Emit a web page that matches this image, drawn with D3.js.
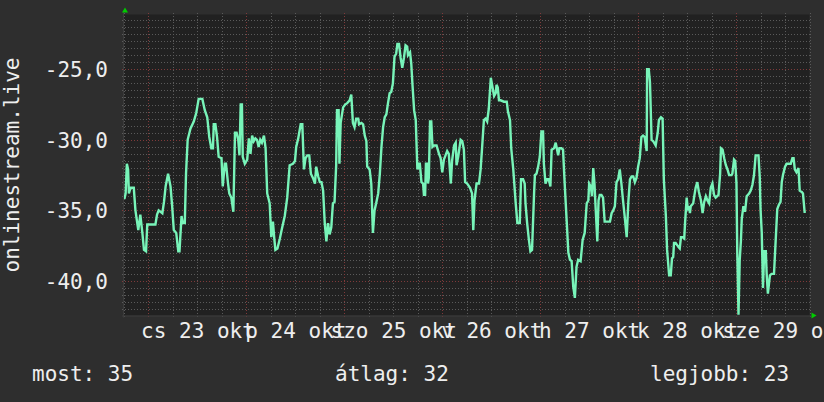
<!DOCTYPE html>
<html>
<head>
<meta charset="utf-8">
<script src="https://cdn.jsdelivr.net/npm/d3@7"></script>
<style>
html,body{margin:0;padding:0;background:#2e2e2e;}
svg{display:block;}
text{font-family:"DejaVu Sans Mono",monospace;fill:#eeeeee;}
</style>
</head>
<body>
<svg id="chart" width="824" height="402"></svg>
<script>
// Hours since 2014-10-23 00:00 (series sample times)
const hours = [-5.9,-5.6,-5.3,-5.0,-4.8,-4.4,-3.6,-3.2,-2.5,-2.0,-1.5,-1.1,-0.6,-0.3,0.5,1.7,2.1,2.5,3.4,3.8,4.2,4.8,5.4,5.8,6.2,6.8,7.3,7.6,8.1,8.4,8.9,9.2,9.6,10.3,11.1,11.7,12.3,13.2,13.8,14.4,14.9,15.4,15.8,16.0,16.4,16.8,17.2,17.9,18.2,18.7,19.0,19.5,19.8,20.3,20.8,21.2,21.6,22.0,22.3,22.6,22.9,23.1,23.6,24.2,24.6,25.0,25.4,25.8,26.2,26.6,27.0,27.4,27.8,28.3,28.7,29.1,29.7,30.1,30.5,30.8,31.1,31.6,32.2,32.7,33.4,34.0,34.6,35.4,35.9,36.2,36.7,37.3,37.7,38.1,38.5,38.9,39.4,39.8,40.3,40.8,41.1,41.6,42.0,42.4,42.8,43.2,43.6,44.0,44.4,44.8,45.2,45.6,46.0,46.2,46.6,46.8,47.1,47.7,48.2,48.7,49.3,49.7,50.1,50.5,50.9,51.4,51.6,52.2,52.6,53.0,53.4,53.6,54.2,54.6,55.0,55.4,55.8,56.3,56.7,57.1,57.5,57.9,58.3,58.7,59.1,59.5,59.9,60.3,60.7,61.0,61.4,61.8,62.2,62.6,63.0,63.4,63.6,64.1,64.4,64.7,65.1,65.5,65.9,66.3,66.5,66.9,67.3,67.5,67.8,68.0,68.3,68.5,68.7,69.0,69.3,69.6,70.0,70.6,71.2,71.6,72.0,72.4,72.8,73.2,73.6,74.1,74.4,74.9,75.3,75.5,75.9,76.5,76.9,77.3,77.6,78.1,78.8,79.3,79.6,79.9,80.4,81.0,81.4,81.8,82.2,82.6,83.0,83.4,83.9,84.2,84.7,85.1,85.3,85.6,85.9,86.3,87.1,87.8,88.1,88.6,88.9,89.4,90.0,90.4,91.0,91.3,91.8,92.2,92.4,92.8,93.2,93.6,94.0,94.5,94.7,95.1,95.5,95.9,96.3,96.7,96.9,97.3,97.7,98.1,98.5,98.8,99.4,99.8,100.2,100.4,100.7,101.2,101.6,102.0,102.5,102.9,103.3,103.7,104.1,104.5,104.9,105.3,105.9,106.4,106.9,107.4,107.8,108.0,108.4,108.7,109.0,109.3,109.6,110.0,110.3,110.6,111.0,111.4,111.8,112.4,113.1,113.5,113.9,114.3,114.7,115.1,115.5,115.9,116.3,116.7,117.2,117.6,118.0,118.4,118.8,119.2,119.6,120.0,120.4,120.8,121.2,121.6,122.1,122.2,122.6,122.9,123.0,123.3,123.7,124.3,124.8,125.1,125.6,126.0,126.3,126.8,127.1,127.6,128.0,128.3,128.6,128.8,129.2,129.9,130.2,130.5,130.9,131.3,131.5,131.9,132.2,132.5,132.7,132.9,133.5,133.7,134.1,134.5,134.9,135.4,135.8,136.2,136.6,137.0,137.4,137.8,138.2,138.6,139.0,139.7,140.1,140.3,140.7,141.1,141.5,141.9,142.3,142.9,143.1,143.5,143.8,144.1,144.3,144.6,144.9,145.2,145.4,145.8,146.2,146.6,147.2,147.6,148.0,148.4,148.8,149.5,149.8,150.0,150.3,150.6,150.9,151.3,151.5,151.8,152.3,152.7,153.3,153.7,154.1,154.5,154.9,155.2,155.5,156.0,156.4,157.4,157.8,158.1,158.4,158.8,159.3,159.6,160.1,160.4,160.8,161.1];
const values = [-34.2,-33.8,-31.7,-32.1,-33.8,-33.4,-33.4,-35.0,-36.4,-35.3,-36.6,-37.8,-37.9,-36.0,-36.0,-36.0,-35.3,-35.0,-35.2,-34.4,-33.3,-32.4,-33.3,-34.7,-36.4,-36.6,-37.9,-37.9,-35.4,-35.9,-35.9,-32.4,-30.0,-29.2,-28.7,-28.1,-27.1,-27.1,-27.9,-28.4,-29.8,-30.6,-30.6,-28.9,-28.9,-29.8,-31.2,-31.3,-33.3,-31.7,-31.7,-33.1,-33.8,-34.1,-35.1,-29.5,-29.5,-30.0,-31.1,-27.5,-27.5,-31.2,-31.7,-31.4,-29.9,-31.0,-29.7,-30.1,-29.9,-30.0,-30.5,-30.0,-30.2,-29.7,-30.6,-33.8,-34.5,-36.9,-35.8,-36.9,-37.8,-37.7,-37.0,-36.3,-35.4,-34.1,-31.8,-31.7,-31.5,-30.5,-29.9,-28.9,-28.9,-32.1,-31.3,-31.1,-31.1,-32.4,-32.7,-33.1,-31.9,-32.6,-33.0,-33.0,-33.6,-35.9,-37.2,-35.9,-36.7,-36.2,-34.5,-34.4,-31.8,-27.9,-27.9,-31.7,-28.8,-27.7,-27.5,-27.4,-27.2,-26.8,-28.8,-29.1,-28.5,-28.5,-28.9,-28.8,-28.9,-29.7,-30.1,-31.9,-32.1,-33.1,-36.6,-35.0,-34.5,-33.8,-32.4,-30.5,-29.1,-28.4,-28.2,-27.4,-26.7,-26.6,-26.0,-24.1,-23.9,-23.2,-23.2,-24.2,-24.9,-24.2,-23.3,-23.4,-24.0,-23.8,-24.6,-26.1,-27.9,-28.6,-32.1,-31.7,-31.7,-33.0,-33.1,-33.9,-33.9,-31.7,-31.7,-33.1,-32.7,-28.7,-28.7,-30.5,-30.4,-30.4,-31.0,-31.3,-32.3,-31.4,-31.1,-30.8,-31.0,-33.1,-31.5,-30.4,-30.2,-31.8,-31.2,-30.0,-30.1,-30.7,-33.0,-33.1,-33.4,-33.8,-36.4,-34.3,-33.1,-33.1,-32.1,-30.4,-28.6,-28.5,-28.7,-27.8,-25.6,-26.1,-26.9,-26.7,-26.1,-26.3,-27.2,-27.2,-27.3,-27.3,-28.0,-28.6,-30.6,-32.1,-34.5,-35.9,-35.9,-32.8,-32.8,-33.1,-34.5,-35.9,-37.0,-37.9,-37.8,-33.8,-32.5,-32.4,-31.9,-31.2,-29.4,-29.4,-31.7,-33.1,-32.8,-32.8,-33.3,-30.7,-30.6,-30.2,-30.8,-31.1,-30.6,-30.6,-30.7,-33.1,-35.8,-38.0,-38.5,-38.6,-40.4,-41.2,-39.0,-38.5,-38.6,-37.1,-36.6,-34.5,-34.3,-33.1,-33.3,-34.0,-32.0,-33.1,-34.9,-37.2,-34.3,-33.9,-33.9,-34.1,-35.8,-35.8,-35.8,-35.2,-35.0,-34.7,-33.0,-32.8,-32.1,-33.1,-34.3,-35.4,-36.9,-34.4,-32.8,-32.6,-32.6,-33.0,-32.7,-31.9,-31.3,-29.8,-29.7,-29.8,-30.8,-25.0,-25.0,-25.9,-26.9,-30.0,-30.1,-30.4,-29.5,-28.6,-28.4,-28.5,-32.8,-35.4,-37.8,-39.6,-39.6,-38.4,-38.3,-37.3,-37.3,-37.6,-37.7,-36.9,-36.9,-37.0,-35.9,-34.1,-35.0,-34.7,-35.2,-34.7,-34.5,-34.1,-33.4,-33.0,-33.7,-34.3,-35.2,-34.4,-34.0,-34.3,-34.5,-33.4,-33.1,-33.9,-34.1,-33.9,-32.4,-30.6,-30.7,-31.3,-31.8,-32.1,-32.5,-32.5,-32.4,-31.4,-31.5,-33.1,-38.0,-42.4,-38.5,-37.1,-35.6,-34.7,-35.1,-34.0,-33.8,-33.6,-33.2,-32.5,-31.1,-31.1,-32.6,-34.9,-36.6,-40.5,-37.9,-37.9,-39.5,-40.9,-39.6,-39.5,-39.5,-37.2,-34.9,-34.6,-34.4,-33.0,-32.5,-31.9,-31.7,-31.7,-31.3,-31.3,-32.1,-32.3,-32.0,-33.6,-33.7,-33.8,-35.1,-35.1];

const dayLabels = ["cs 23 okt","p 24 okt","szo 25 okt","v 26 okt","h 27 okt","k 28 okt","sze 29 okt"];
const yTicks = [-40,-35,-30,-25];
const axisTitle = "onlinestream.live";
const legendLabels = ["most:","átlag:","legjobb:"];
const legendValues = [35,32,23];

const t0 = Date.UTC(2014,9,23,0,0);
const toDate = h => new Date(t0 + h*3600e3);

const W = 824, H = 402;
const plot = {left:124, right:809.5, top:14.5, bottom:315.5};

const x = d3.scaleUtc().domain([toDate(-6), toDate(162)]).range([plot.left, plot.right]);
const y = d3.scaleLinear().domain([-42.45,-21.12]).range([plot.bottom, plot.top]);

const svg = d3.select("#chart");
svg.append("rect").attr("width",W).attr("height",H).attr("fill","#2e2e2e");
svg.append("rect").attr("x",plot.left).attr("y",plot.top)
  .attr("width",plot.right-plot.left).attr("height",plot.bottom-plot.top).attr("fill","#212121");

// grid
const grid = svg.append("g").attr("shape-rendering","crispEdges");
const minorY = d3.range(-42, -21.1, 0.5).filter(v => v % 5 !== 0);
grid.selectAll("line.hy").data(minorY).join("line")
  .attr("x1",plot.left-2).attr("x2",plot.right+2)
  .attr("y1",d=>Math.round(y(d))+0.5).attr("y2",d=>Math.round(y(d))+0.5)
  .attr("stroke","#5a5a5a").attr("stroke-dasharray","1,2");
const minorX = d3.range(-6, 163, 6).filter(h => h % 24 !== 0).map(toDate);
grid.selectAll("line.vx").data(minorX).join("line")
  .attr("x1",d=>Math.round(x(d))+0.5).attr("x2",d=>Math.round(x(d))+0.5)
  .attr("y1",plot.top-2).attr("y2",plot.bottom+2)
  .attr("stroke","#5a5a5a").attr("stroke-dasharray","1,2");
grid.selectAll("line.my").data(yTicks).join("line")
  .attr("x1",plot.left-2).attr("x2",plot.right+2)
  .attr("y1",d=>Math.round(y(d))+0.5).attr("y2",d=>Math.round(y(d))+0.5)
  .attr("stroke","#7f3a3a").attr("stroke-dasharray","1,2");
const majorX = d3.range(0, 163, 24).map(toDate);
grid.selectAll("line.mx").data(majorX).join("line")
  .attr("x1",d=>Math.round(x(d))+0.5).attr("x2",d=>Math.round(x(d))+0.5)
  .attr("y1",plot.top-2).attr("y2",plot.bottom+2)
  .attr("stroke","#7f3a3a").attr("stroke-dasharray","1,2");

// axes lines
svg.append("line").attr("x1",plot.left-0.5).attr("x2",plot.left-0.5)
  .attr("y1",plot.top-4).attr("y2",plot.bottom+2).attr("stroke","#3c3c3c");
svg.append("line").attr("x1",plot.left-2).attr("x2",plot.right+2)
  .attr("y1",plot.bottom+0.5).attr("y2",plot.bottom+0.5).attr("stroke","#3c3c3c");

// data line
svg.append("clipPath").attr("id","pc").append("rect")
  .attr("x",plot.left).attr("y",plot.top-1).attr("width",plot.right-plot.left).attr("height",plot.bottom-plot.top+2);
const pts = hours.map((h,i)=>({t:toDate(h), v:values[i]}));
svg.append("path").datum(pts)
  .attr("clip-path","url(#pc)")
  .attr("fill","none").attr("stroke","#78f4b9").attr("stroke-width",2.4)
  .attr("stroke-linejoin","miter")
  .attr("d", d3.line().x(d=>x(d.t)).y(d=>y(d.v)));

// arrows
svg.append("path").attr("d",`M${plot.left-2},${plot.top-2} l3,-5 l3,5 z`).attr("fill","#00cc00");
svg.append("path").attr("d",`M${plot.right+2},${plot.bottom-3} l5,3 l-5,3 z`).attr("fill","#00cc00");

// y axis labels
const fmt = d3.formatLocale({decimal:",",thousands:" ",grouping:[3],currency:["",""],minus:"-"}).format(".1f");
const yAxis = d3.axisLeft(y).tickValues(yTicks).tickFormat(fmt).tickSize(0).tickPadding(0);
const gy = svg.append("g").attr("transform","translate(108,0)").call(yAxis);
gy.select(".domain").remove();
gy.selectAll("text").attr("font-size",21).attr("font-family","DejaVu Sans Mono")
  .attr("fill","#eeeeee").attr("dy","0.36em").attr("x",0);

// x axis labels (centered at noon)
const noon = dayLabels.map((d,i)=>toDate(12+24*i));
const xAxis = d3.axisBottom(x).tickValues(noon).tickFormat((d,i)=>dayLabels[i]).tickSize(0).tickPadding(0);
const gx = svg.append("g").attr("transform","translate(0,338)").call(xAxis);
gx.select(".domain").remove();
gx.selectAll("text").attr("font-size",21).attr("font-family","DejaVu Sans Mono")
  .attr("fill","#eeeeee").attr("dy",0).attr("y",0);

// y title
svg.append("text").attr("transform",`translate(18.5,${(plot.top+plot.bottom)/2}) rotate(-90)`)
  .attr("text-anchor","middle").attr("font-size",21).text(axisTitle);

// legend
const legendX = [32, 335, 650];
svg.selectAll("text.leg").data(legendLabels).join("text")
  .attr("class","leg").attr("x",(d,i)=>legendX[i]).attr("y",381)
  .attr("font-size",21).text((d,i)=>d+" "+legendValues[i]);
</script>
</body>
</html>
